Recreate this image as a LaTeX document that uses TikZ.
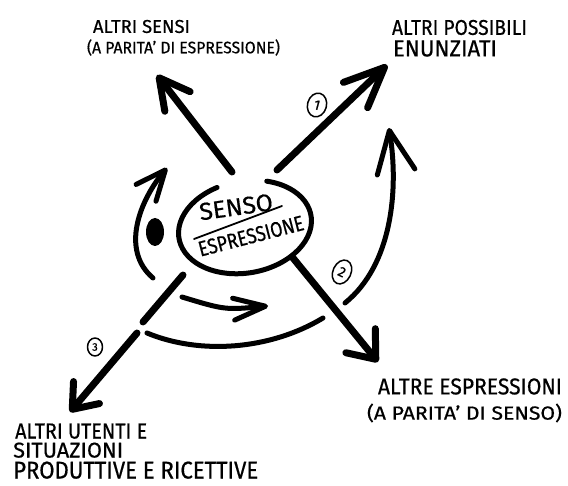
\documentclass[tikz,border=0pt]{standalone}
\usepackage{fontspec}
\setmainfont{Fira Sans}[FakeBold=0.6]
\usepackage{graphicx}
\usetikzlibrary{arrows.meta,shapes.geometric}
\newcommand{\fitto}[3]{\resizebox{#1pt}{#2pt}{#3}}
\begin{document}
\begin{tikzpicture}[x=1pt,y=-1pt,line cap=round,line join=round,
  heavy/.style={line width=7pt},
  medium/.style={line width=5pt},
  head/.style 2 args={-{Straight Barb[length=#1pt,width=#2pt,round]}},
  lbl/.style={inner sep=0pt,anchor=center},
  numcirc/.style={draw,ellipse,line width=1.5pt,inner sep=0pt,font=\fontsize{14}{14}\selectfont}]
\fill[white] (0,0) rectangle (568,486);
\useasboundingbox (0,0) rectangle (568,486);

% labels
\node[lbl] (t1)  at (141.5,26.5) {\fitto{97}{13}{ALTRI SENSI}};
\node[lbl] (t1b) at (183.5,47.5) {\fitto{193}{14}{(A PARITA’ DI ESPRESSIONE)}};
\node[lbl] (t2)  at (459.5,27.5) {\fitto{135}{15}{ALTRI POSSIBILI}};
\node[lbl] (t2b) at (445,48.5)   {\fitto{104}{16}{ENUNZIATI}};
\node[lbl] (t3)  at (470,386.5)  {\fitto{184}{16}{ALTRE ESPRESSIONI}};
\node[lbl] (t3b) at (464.5,413)  {\fitto{195}{16}{(A PARITA’ DI SENSO)}};
\node[lbl,anchor=south west] (t4)  at (15,439)  {\fitto{132}{15}{ALTRI UTENTI E}};
\node[lbl,anchor=south west] (t4b) at (13,458)  {\fitto{110}{15}{SITUAZIONI}};
\node[lbl,anchor=south west] (t4c) at (13,479)  {\fitto{245}{17}{PRODUTTIVE E RICETTIVE}};

% central ellipse
\begin{scope}[shift={(245,227)},rotate=10]
  \draw[medium] (296:67 and 46) arc[start angle=296,end angle=612,x radius=67,y radius=46];
\end{scope}
\node[lbl,rotate=8] (senso) at (236,207) {\fitto{74}{17}{SENSO}};
\node[lbl,rotate=14.5] (espr)  at (251,236) {\fitto{108}{15}{ESPRESSIONE}};
\coordinate (u1) at (194,239);
\coordinate (u2) at (282,206);
\draw[line width=1.8pt] (u1) -- (u2);

% arrow 0: up-left
\coordinate (a0s) at (232,172);
\coordinate (a0e) at (157,75);
\draw[heavy,head={30}{32}] (a0s) -- (a0e);
% arrow 1: up-right
\coordinate (a1s) at (277,170);
\coordinate (a1e) at (387,65);
\draw[heavy,head={40}{35}] (a1s) -- (a1e);
\node[numcirc,rotate=-15,minimum width=19pt,minimum height=24pt] (n1) at (317,105) {1};
% arrow 2: down-right
\coordinate (a2s) at (293,258);
\coordinate (a2e) at (378,362);
\draw[heavy,head={24}{38}] (a2s) -- (a2e);
% arc 2 on the right
\coordinate (r1) at (345,303);
\coordinate (r2) at (389,128);
\draw[medium,head={42}{38}] (r1) .. controls (392,265) and (399,190) .. (r2);
\node[numcirc,rotate=-25,minimum width=18pt,minimum height=25pt] (n2) at (342,272) {2};
% arrow 3: down-left (broken)
\coordinate (d1) at (183,275);
\coordinate (d2) at (143,322);
\coordinate (d3) at (137,333);
\coordinate (d4) at (70,412);
\draw[heavy] (d1) -- (d2);
\draw[heavy,head={22}{34}] (d3) -- (d4);
\node[numcirc,minimum width=15pt,minimum height=18pt,font=\fontsize{11}{11}\selectfont] (n3) at (95,347) {3};
% bottom arc
\coordinate (b1) at (147,333);
\coordinate (b2) at (323,318);
\draw[medium] (b1) .. controls (200,355) and (270,350) .. (b2);
% middle arrow
\coordinate (m1) at (182,297);
\coordinate (m2) at (268,306);
\draw[medium,head={32}{22}] (m1) .. controls (225,310) .. (m2);
% left arc with dot
\coordinate (l1) at (153,278);
\coordinate (l2) at (167,168);
\draw[medium,head={30}{26}] (l1) .. controls (120,250) and (140,200) .. (l2);
\node[fill,ellipse,inner sep=0pt,minimum width=18pt,minimum height=28pt] (dot) at (155,232) {};
\end{tikzpicture}
\end{document}
